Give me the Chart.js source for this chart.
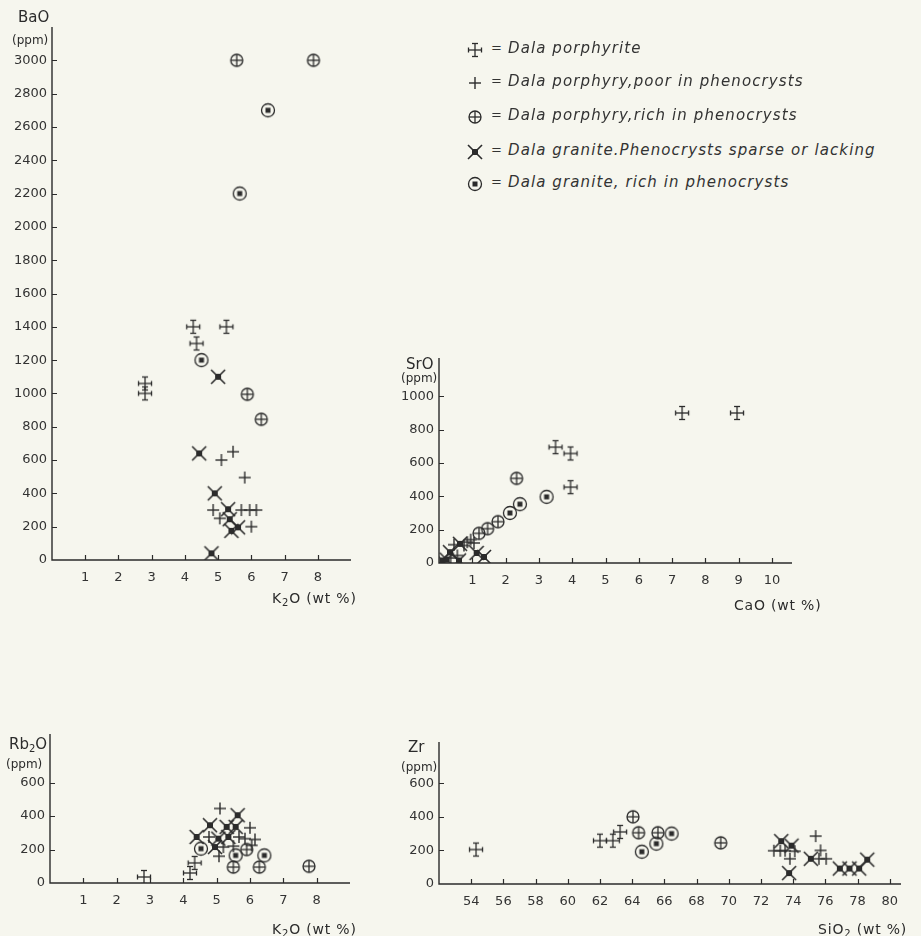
<!DOCTYPE html>
<html>
<head>
<meta charset="utf-8">
<script src="https://cdn.jsdelivr.net/npm/chart.js@4.4.0/dist/chart.umd.min.js"></script>
<style>
  body { margin: 0; background: #f6f6ee; width: 921px; height: 936px; position: relative; overflow: hidden;
         font-family: "DejaVu Sans", sans-serif; color: #2b2b2b; }
  canvas { position: absolute; }
  .t { position: absolute; white-space: nowrap; line-height: 1; }
  .yt { font-size: 15px; }
  .unit { font-size: 12px; }
  .xt { font-size: 14px; letter-spacing: 0.8px; }
  sub { font-size: 10px; vertical-align: -3px; line-height: 0; }
  .leg { position: absolute; left: 466px; font-size: 15px; font-style: italic; line-height: 1; white-space: nowrap; color: #333; }
  .leg canvas { position: absolute; left: 0; top: -8px; }
  .leg span { position: absolute; left: 42px; top: -8px; letter-spacing: 1.1px; }
  .leg b { position: absolute; left: 25px; top: -8px; font-weight: normal; font-style: normal; font-size: 13px; }
</style>
</head>
<body>

<canvas id="ba" width="360" height="600" style="left:0;top:0"></canvas>
<canvas id="sr" width="414" height="273" style="left:387px;top:330px"></canvas>
<canvas id="rb" width="359" height="213" style="left:0;top:710px"></canvas>
<canvas id="zr" width="523" height="204" style="left:387px;top:720px"></canvas>

<div class="t yt" style="left:18px;top:10px">BaO</div>
<div class="t unit" style="left:12px;top:34px">(ppm)</div>
<div class="t xt" style="left:272px;top:591px">K<sub>2</sub>O (wt %)</div>

<div class="t yt" style="left:406px;top:357px">SrO</div>
<div class="t unit" style="left:401px;top:372px">(ppm)</div>
<div class="t xt" style="left:734px;top:598px">CaO (wt %)</div>

<div class="t yt" style="left:9px;top:737px">Rb<sub>2</sub>O</div>
<div class="t unit" style="left:6px;top:758px">(ppm)</div>
<div class="t xt" style="left:272px;top:922px">K<sub>2</sub>O (wt %)</div>

<div class="t yt" style="left:408px;top:740px">Zr</div>
<div class="t unit" style="left:401px;top:761px">(ppm)</div>
<div class="t xt" style="left:818px;top:922px">SiO<sub>2</sub> (wt %)</div>

<div id="legend"></div>

<script>
const ink = '#2b2b2b';

// legend / group names
const groupNames = [
  'Dala porphyrite',
  'Dala porphyry,poor in phenocrysts',
  'Dala porphyry,rich in phenocrysts',
  'Dala  granite.Phenocrysts sparse or lacking',
  'Dala granite, rich in phenocrysts'
];
const legendY = [50, 83, 117, 152, 184];

// BaO (ppm) vs K2O (wt %)
const baPorphyrite = [[4.25,1400],[5.25,1400],[4.35,1300],[2.8,1060],[2.8,1000]];
const baPoor = [[5.1,600],[5.45,650],[5.8,495],[4.85,300],[5.05,250],[5.7,300],[5.95,300],[6.15,300],[6.0,200]];
const baRich = [[5.56,3000],[7.87,3000],[5.88,995],[6.3,845]];
const baGranite = [[5.0,1100],[4.43,640],[4.9,400],[5.3,305],[5.35,245],[5.6,196],[5.4,175],[4.8,40]];
const baGraniteRich = [[6.5,2700],[5.65,2200],[4.5,1200]];
const baXTicks = [1,2,3,4,5,6,7,8];
const baYTicks = [0,200,400,600,800,1000,1200,1400,1600,1800,2000,2200,2400,2600,2800,3000];

// SrO (ppm) vs CaO (wt %)
const srPorphyrite = [[7.3,900],[8.95,900],[3.5,695],[3.95,657],[3.95,455]];
const srPoor = [[0.45,110],[0.75,105],[0.85,125],[0.95,140],[1.05,120],[0.55,45],[0.35,30]];
const srRich = [[2.33,508],[1.77,248],[1.46,206],[1.2,178]];
const srGranite = [[0.1,15],[0.23,20],[0.33,65],[0.6,15],[0.63,115],[1.13,60],[1.35,36]];
const srGraniteRich = [[2.13,300],[2.43,353],[3.23,397]];
const srXTicks = [1,2,3,4,5,6,7,8,9,10];
const srYTicks = [0,200,400,600,800,1000];

// Rb2O (ppm) vs K2O (wt %)
const rbPorphyrite = [[2.82,36],[4.34,120],[4.2,60]];
const rbPoor = [[5.1,445],[4.77,275],[5.2,215],[5.07,160],[5.67,275],[5.85,265],[6.0,330],[6.15,260],[5.5,220],[6.05,225]];
const rbRich = [[5.5,95],[6.28,95],[7.77,100],[5.9,200]];
const rbGranite = [[4.4,275],[4.8,345],[4.95,215],[5.05,265],[5.3,335],[5.35,275],[5.57,335],[5.63,405]];
const rbGraniteRich = [[4.53,205],[5.57,165],[6.43,165]];
const rbXTicks = [1,2,3,4,5,6,7,8];
const rbYTicks = [0,200,400,600];

// Zr (ppm) vs SiO2 (wt %)
const zrPorphyrite = [[54.3,205],[62.0,258],[62.8,258],[63.25,310]];
const zrPoor = [[72.8,198],[73.2,198],[73.5,198],[74.1,195],[73.8,150],[75.4,285],[75.7,200],[75.6,150],[76.05,150]];
const zrRich = [[64.05,400],[64.4,305],[65.6,305],[69.5,245]];
const zrGranite = [[73.26,255],[73.9,228],[73.75,65],[75.1,150],[76.9,92],[77.5,92],[78.1,92],[78.6,145]];
const zrGraniteRich = [[64.6,192],[65.5,240],[66.45,300]];
const zrXTicks = [54,56,58,60,62,64,66,68,70,72,74,76,78,80];
const zrYTicks = [0,200,400,600];

// marker symbols drawn on small canvases, used as pointStyle
function makeMarker(type) {
  const s = 18, c = document.createElement('canvas');
  c.width = s; c.height = s;
  const g = c.getContext('2d');
  g.translate(s / 2, s / 2);
  g.strokeStyle = ink; g.fillStyle = ink; g.lineWidth = 1.3;
  const line = (x1, y1, x2, y2) => { g.beginPath(); g.moveTo(x1, y1); g.lineTo(x2, y2); g.stroke(); };
  if (type === 0) {          // cross with end bars
    line(-6.5, 0, 6.5, 0); line(0, -6.5, 0, 6.5);
    line(-3, -6.5, 3, -6.5); line(-3, 6.5, 3, 6.5);
    line(-6.5, -2.5, -6.5, 2.5); line(6.5, -2.5, 6.5, 2.5);
  } else if (type === 1) {   // plain plus
    g.lineWidth = 1.4;
    line(-6, 0, 6, 0); line(0, -6, 0, 6);
  } else if (type === 2) {   // circle with plus
    g.beginPath(); g.arc(0, 0, 6, 0, Math.PI * 2); g.stroke();
    line(-6, 0, 6, 0); line(0, -6, 0, 6);
  } else if (type === 3) {   // x with filled centre
    g.lineWidth = 1.6;
    line(-7, -7, 7, 7); line(-7, 7, 7, -7);
    g.fillRect(-3, -3, 6, 6);
  } else {                   // circle with filled centre
    g.beginPath(); g.arc(0, 0, 6.5, 0, Math.PI * 2); g.stroke();
    g.fillRect(-2.5, -2.5, 5, 5);
  }
  return c;
}
const markers = [0, 1, 2, 3, 4].map(makeMarker);

// axis lines and inward tick marks
const axesPlugin = {
  id: 'axes',
  beforeDatasetsDraw(chart) {
    const { ctx, chartArea: a, scales: { x, y } } = chart;
    ctx.save();
    ctx.strokeStyle = ink;
    ctx.lineWidth = 1.4;
    ctx.beginPath();
    ctx.moveTo(a.left, a.top);
    ctx.lineTo(a.left, a.bottom);
    ctx.lineTo(a.right, a.bottom);
    ctx.stroke();
    ctx.lineWidth = 1.2;
    ctx.beginPath();
    x.ticks.forEach(t => {
      const px = Math.round(x.getPixelForValue(t.value)) + 0.5;
      ctx.moveTo(px, a.bottom); ctx.lineTo(px, a.bottom - 5);
    });
    y.ticks.forEach(t => {
      if (t.value === 0) return;
      const py = Math.round(y.getPixelForValue(t.value)) + 0.5;
      ctx.moveTo(a.left, py); ctx.lineTo(a.left + 5, py);
    });
    ctx.stroke();
    ctx.restore();
  }
};

function makeChart(id, groups, xr, yr, xTicks, yTicks, yWidth, pad) {
  const font = { family: '"DejaVu Sans", sans-serif', size: 13 };
  return new Chart(document.getElementById(id), {
    type: 'scatter',
    data: {
      datasets: groups.map((pts, i) => ({
        label: groupNames[i],
        data: pts.map(p => ({ x: p[0], y: p[1] })),
        pointStyle: markers[i],
        pointRadius: 8,
        pointHoverRadius: 8
      }))
    },
    options: {
      responsive: false,
      animation: false,
      events: [],
      layout: { padding: pad },
      plugins: { legend: { display: false }, tooltip: { enabled: false } },
      scales: {
        x: {
          type: 'linear', min: xr[0], max: xr[1],
          grid: { display: false, drawTicks: false },
          border: { display: false },
          ticks: { padding: 10, color: '#333', font: font, callback: v => String(v) },
          afterBuildTicks: s => { s.ticks = xTicks.map(v => ({ value: v })); },
          afterFit: s => { s.height = 40; }
        },
        y: {
          type: 'linear', min: yr[0], max: yr[1],
          grid: { display: false, drawTicks: false },
          border: { display: false },
          ticks: { padding: 5, color: '#333', font: font, callback: v => String(v) },
          afterBuildTicks: s => { s.ticks = yTicks.map(v => ({ value: v })); },
          afterFit: s => { s.width = yWidth; }
        }
      }
    },
    plugins: [axesPlugin]
  });
}

makeChart('ba', [baPorphyrite, baPoor, baRich, baGranite, baGraniteRich],
  [0, 9], [0, 3200], baXTicks, baYTicks, 52, { top: 27, right: 8, left: 0, bottom: 0 });
makeChart('sr', [srPorphyrite, srPoor, srRich, srGranite, srGraniteRich],
  [0, 10.6], [0, 1230], srXTicks, srYTicks, 52, { top: 28, right: 8, left: 0, bottom: 0 });
makeChart('rb', [rbPorphyrite, rbPoor, rbRich, rbGranite, rbGraniteRich],
  [0, 9], [0, 890], rbXTicks, rbYTicks, 50, { top: 24, right: 8, left: 0, bottom: 0 });
makeChart('zr', [zrPorphyrite, zrPoor, zrRich, zrGranite, zrGraniteRich],
  [52, 80.7], [0, 845], zrXTicks, zrYTicks, 52, { top: 22, right: 8, left: 0, bottom: 0 });

// legend
const legend = document.getElementById('legend');
groupNames.forEach((name, i) => {
  const row = document.createElement('div');
  row.className = 'leg';
  row.style.top = (legendY[i] - 1) + 'px';
  row.appendChild(markers[i].cloneNode());
  row.firstChild.getContext('2d').drawImage(markers[i], 0, 0);
  const eq = document.createElement('b'); eq.textContent = '=';
  const txt = document.createElement('span'); txt.textContent = name;
  row.appendChild(eq); row.appendChild(txt);
  legend.appendChild(row);
});
</script>
</body>
</html>
